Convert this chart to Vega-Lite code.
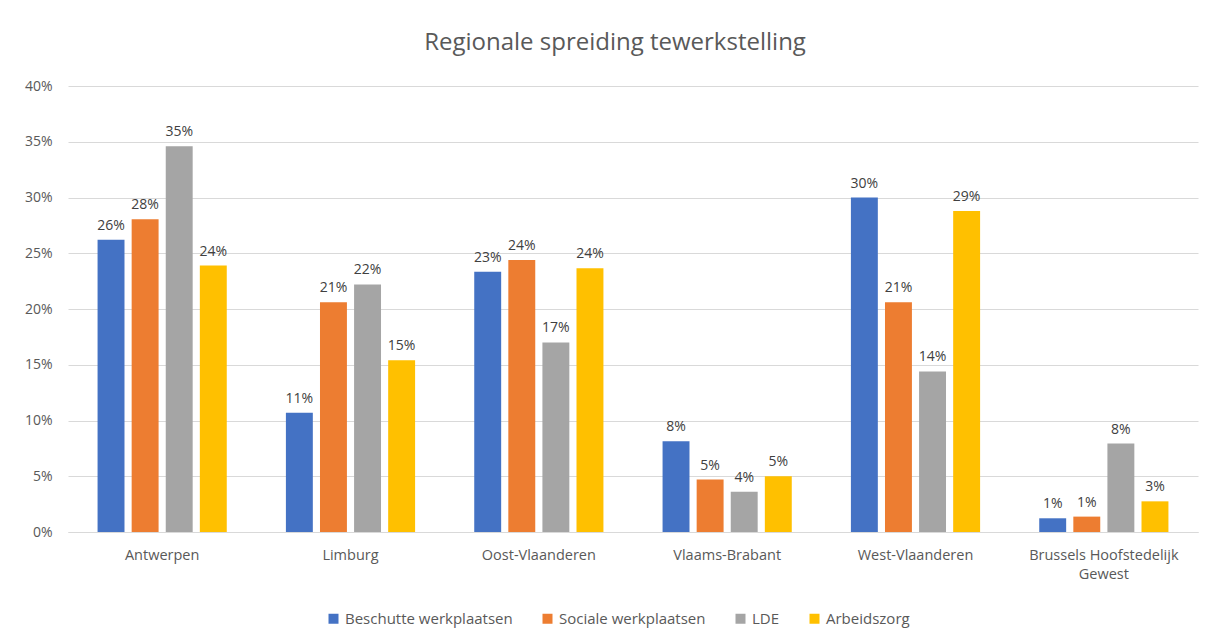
{
  "$schema": "https://vega.github.io/schema/vega-lite/v6.json",
  "autosize": "none",
  "width": 1130,
  "height": 446,
  "padding": {"left": 68, "top": 86, "right": 10, "bottom": 107},
  "background": "white",
  "config": {
    "font": "Open Sans",
    "view": {"stroke": null},
    "axis": {"labelColor": "#595959", "labelFont": "Open Sans", "labelFontSize": 14}
  },
  "title": {
    "text": "Regionale spreiding tewerkstelling",
    "fontSize": 24,
    "font": "Open Sans",
    "fontWeight": "normal",
    "color": "#595959",
    "anchor": "middle",
    "dx": -18,
    "offset": 24
  },
  "data": {
    "values": [
      {"regio": "Antwerpen", "type": "Beschutte werkplaatsen", "waarde": 0.262},
      {"regio": "Antwerpen", "type": "Sociale werkplaatsen", "waarde": 0.2805},
      {"regio": "Antwerpen", "type": "LDE", "waarde": 0.346},
      {"regio": "Antwerpen", "type": "Arbeidszorg", "waarde": 0.239},
      {"regio": "Limburg", "type": "Beschutte werkplaatsen", "waarde": 0.107},
      {"regio": "Limburg", "type": "Sociale werkplaatsen", "waarde": 0.206},
      {"regio": "Limburg", "type": "LDE", "waarde": 0.222},
      {"regio": "Limburg", "type": "Arbeidszorg", "waarde": 0.154},
      {"regio": "Oost-Vlaanderen", "type": "Beschutte werkplaatsen", "waarde": 0.2335},
      {"regio": "Oost-Vlaanderen", "type": "Sociale werkplaatsen", "waarde": 0.244},
      {"regio": "Oost-Vlaanderen", "type": "LDE", "waarde": 0.170},
      {"regio": "Oost-Vlaanderen", "type": "Arbeidszorg", "waarde": 0.2365},
      {"regio": "Vlaams-Brabant", "type": "Beschutte werkplaatsen", "waarde": 0.0814},
      {"regio": "Vlaams-Brabant", "type": "Sociale werkplaatsen", "waarde": 0.047},
      {"regio": "Vlaams-Brabant", "type": "LDE", "waarde": 0.036},
      {"regio": "Vlaams-Brabant", "type": "Arbeidszorg", "waarde": 0.050},
      {"regio": "West-Vlaanderen", "type": "Beschutte werkplaatsen", "waarde": 0.300},
      {"regio": "West-Vlaanderen", "type": "Sociale werkplaatsen", "waarde": 0.206},
      {"regio": "West-Vlaanderen", "type": "LDE", "waarde": 0.144},
      {"regio": "West-Vlaanderen", "type": "Arbeidszorg", "waarde": 0.288},
      {"regio": "Brussels Hoofstedelijk Gewest", "type": "Beschutte werkplaatsen", "waarde": 0.0123},
      {"regio": "Brussels Hoofstedelijk Gewest", "type": "Sociale werkplaatsen", "waarde": 0.0138},
      {"regio": "Brussels Hoofstedelijk Gewest", "type": "LDE", "waarde": 0.0793},
      {"regio": "Brussels Hoofstedelijk Gewest", "type": "Arbeidszorg", "waarde": 0.0275}
    ]
  },
  "encoding": {
    "x": {
      "field": "regio",
      "type": "nominal",
      "sort": null,
      "scale": {"paddingInner": 0.314, "paddingOuter": 0.157},
      "axis": {
        "title": null,
        "labelAngle": 0,
        "ticks": false,
        "domain": true,
        "domainColor": "#D9D9D9",
        "labelPadding": 16,
        "labelFontSize": 14.5,
        "labelLineHeight": 19,
        "labelBaseline": "top",
        "labelLimit": 300,
        "labelExpr": "datum.label == 'Brussels Hoofstedelijk Gewest' ? ['Brussels Hoofstedelijk', 'Gewest'] : datum.label"
      }
    },
    "xOffset": {
      "field": "type",
      "type": "nominal",
      "sort": ["Beschutte werkplaatsen", "Sociale werkplaatsen", "LDE", "Arbeidszorg"],
      "scale": {"paddingInner": 0.21, "paddingOuter": 0}
    },
    "y": {
      "field": "waarde",
      "type": "quantitative",
      "scale": {"domain": [0, 0.4]},
      "axis": {
        "title": null,
        "values": [0, 0.05, 0.1, 0.15, 0.2, 0.25, 0.3, 0.35, 0.4],
        "format": ".0%",
        "domain": false,
        "ticks": false,
        "gridColor": "#D9D9D9",
        "labelPadding": 16
      }
    }
  },
  "layer": [
    {
      "mark": {"type": "bar"},
      "encoding": {
        "color": {
          "field": "type",
          "type": "nominal",
          "sort": ["Beschutte werkplaatsen", "Sociale werkplaatsen", "LDE", "Arbeidszorg"],
          "scale": {
            "domain": ["Beschutte werkplaatsen", "Sociale werkplaatsen", "LDE", "Arbeidszorg"],
            "range": ["#4472C4", "#ED7D31", "#A5A5A5", "#FFC000"]
          },
          "legend": {
            "title": null,
            "orient": "none",
            "direction": "horizontal",
            "legendX": 258,
            "legendY": 525,
            "symbolType": "square",
            "symbolSize": 100,
            "symbolStrokeWidth": 0,
            "labelFontSize": 15,
            "labelColor": "#595959",
            "labelFont": "Open Sans",
            "labelOffset": 4,
            "labelLimit": 400,
            "columnPadding": 27
          }
        }
      }
    },
    {
      "mark": {"type": "text", "baseline": "bottom", "dy": -7, "fontSize": 14, "color": "#404040", "font": "Open Sans"},
      "encoding": {
        "text": {"field": "waarde", "type": "quantitative", "format": ".0%"}
      }
    }
  ]
}
